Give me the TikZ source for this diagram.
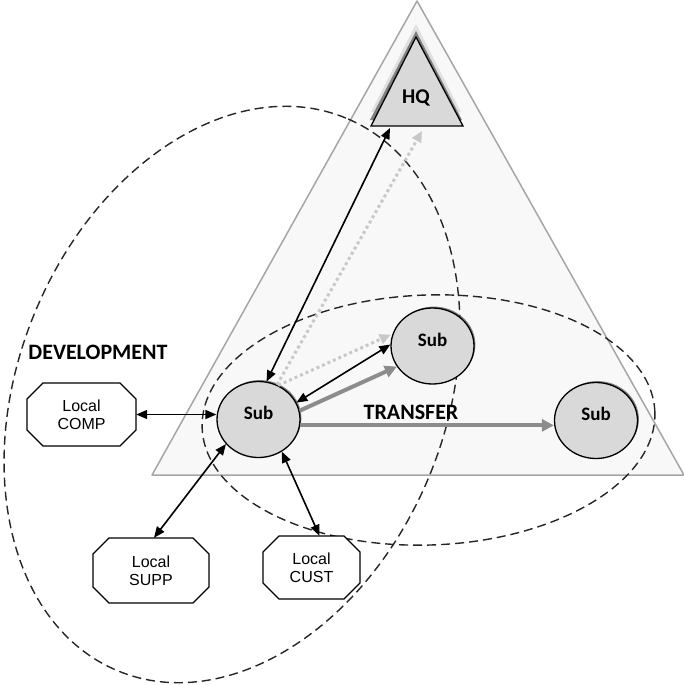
\documentclass[tikz,border=0pt]{standalone}
\usepackage{fontspec}
\setmainfont{Liberation Sans}
\newfontfamily\calibri{Carlito}
\usetikzlibrary{arrows.meta,shapes.geometric,shadows}

\definecolor{pale}{HTML}{F8F8F8}
\definecolor{rim}{HTML}{A6A6A6}
\definecolor{unitfill}{HTML}{D9D9D9}
\definecolor{flow}{HTML}{8C8C8C}
\definecolor{faint}{HTML}{C8C8C8}
\definecolor{zone}{HTML}{262626}

% octagonal box: #1 name, (#2,#3) centre, #4 width, #5 height, #6 text
\newcommand\octbox[6]{%
  \draw[octline]
    ({#2-#4/2+16},{#3-#5/2}) -- ({#2+#4/2-16},{#3-#5/2}) --
    ({#2+#4/2},{#3-#5/2+16}) -- ({#2+#4/2},{#3+#5/2-16}) --
    ({#2+#4/2-16},{#3+#5/2}) -- ({#2-#4/2+16},{#3+#5/2}) --
    ({#2-#4/2},{#3+#5/2-16}) -- ({#2-#4/2},{#3-#5/2+16}) -- cycle;
  \node[localtext, minimum width=#4pt, minimum height=#5pt] (#1) at (#2,#3) {#6};}

\begin{document}
\begin{tikzpicture}[x=1pt,y=-1pt,
  octline/.style={draw=black, fill=white, line width=1.1pt, line join=miter},
  localtext/.style={font=\fontsize{16}{18}\selectfont, align=center, inner sep=0pt},
  unit/.style={ellipse, draw=black, fill=unitfill, line width=1.3pt,
    minimum width=83pt, minimum height=76pt, inner sep=0pt,
    text height=8pt, text depth=8pt,
    font=\calibri\bfseries\fontsize{19}{22}\selectfont,
    drop shadow={shadow xshift=1.4pt, shadow yshift=1.4pt, fill=black!70, opacity=0.7}},
  zoneline/.style={draw=zone, line width=1.4pt, dash pattern=on 9pt off 5pt},
  tag/.style={font=\calibri\bfseries\fontsize{22}{24}\selectfont, inner sep=0pt},
  link/.style={draw=black, line width=1.6pt, {Triangle[length=11pt,width=9pt]}-{Triangle[length=11pt,width=9pt]}},
  move/.style={draw=flow, line width=4pt, -{Triangle[length=12pt,width=12pt]}},
  hint/.style={draw=faint, line width=3pt, dash pattern=on 3pt off 3pt, -{Triangle[length=11pt,width=10pt]}}
]
\useasboundingbox (0,0) rectangle (684,685);

% corporate triangle
\draw[fill=pale, draw=rim, line width=1.5pt, line join=round] (417,1) -- (684,475) -- (152,475) -- cycle;

% headquarters with its soft shadow
\fill[black!12] (416,24) -- (461,112) -- (371,112) -- cycle;
\fill[black!50] (416,31) -- (462,120) -- (370,120) -- cycle;
\draw[fill=unitfill, line width=1.3pt, line join=miter] (416,37) -- (463,126) -- (371,126) -- cycle;
\node[tag, font=\calibri\bfseries\fontsize{21}{24}\selectfont] (hq) at (416,98) {HQ};
\coordinate (hqA) at (390,128);
\coordinate (hqB) at (422,131);

% dashed zones
\draw[zoneline, rotate around={67.6:(232,394.5)}] (232,394.5) ellipse [x radius=299pt, y radius=213.5pt];
\draw[zoneline, rotate around={2:(428.5,420)}] (428.5,420) ellipse [x radius=226.5pt, y radius=125pt];

% subsidiaries
\node[unit] (subL) at (258.5,419.5) {Sub};
\node[unit] (subT) at (432.5,346) {Sub};
\node[unit] (subR) at (596,420.5) {Sub};

% local partners
\octbox{comp}{81.5}{414.5}{109}{63}{Local\\COMP}
\octbox{supp}{151}{570.5}{116}{65}{Local\\SUPP}
\octbox{cust}{311.5}{567.5}{97}{63}{Local\\CUST}

% labels
\node[tag] (dev) at (98,352) {DEVELOPMENT};
\node[tag] (tr) at (411,412) {TRANSFER};

% flows
\draw[hint] (subL.62) -- (hqB);
\draw[hint, shorten >=2pt] (subL.60) -- (subT.163);
\draw[move] (subL.12) -- (subT.210);
\draw[move] (subL.-8) -- (subL.-8 -| subR.west);
\draw[link] (subL.78) -- (hqA);
\draw[link] (subL.24) -- (subT.178);
\draw[link] (comp.east) -- (comp.east -| subL.west);
\draw[link] (subL.217) -- ([xshift=3pt]supp.north);
\draw[link] (subL.-54) -- ([xshift=8pt]cust.north);
\end{tikzpicture}
\end{document}
